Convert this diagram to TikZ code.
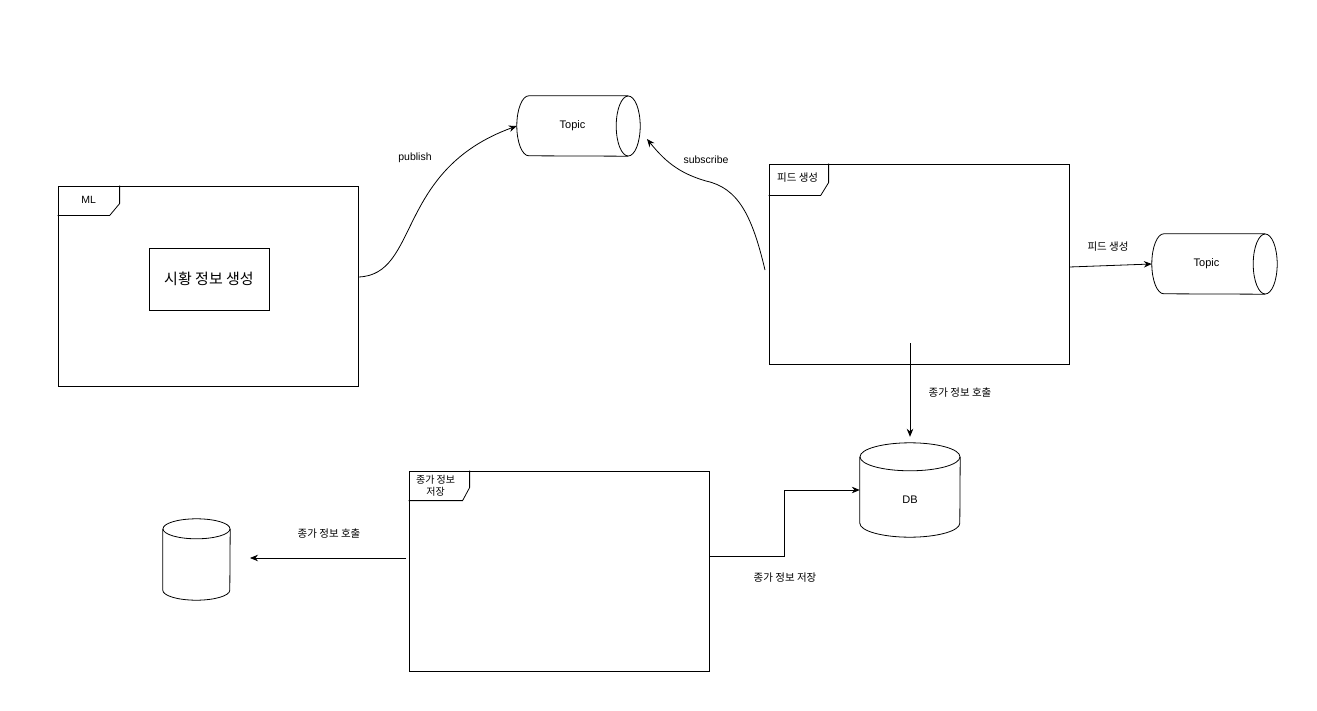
\documentclass[tikz,border=0pt]{standalone}
\usepackage{fontspec}
\setmainfont{Liberation Sans}
\newfontfamily\kr{Noto Sans CJK KR}
\usetikzlibrary{arrows.meta,calc}
\tikzset{
  frame/.style={draw, line width=0.8pt, minimum width=300pt, minimum height=200pt, inner sep=0pt},
  lbl/.style={font=\kr\fontsize{10.5}{12.5}\selectfont, inner sep=1pt, align=center},
  conn/.style={line width=0.8pt, -{Stealth[length=8pt,width=6.5pt]}},
  shapeline/.style={line width=0.8pt},
  ghost/.style={draw=none, inner sep=0pt},
}
\begin{document}
\begin{tikzpicture}[x=1pt,y=1pt]
\fill[white] (0,0) rectangle (1317,-711);
\useasboundingbox (0,0) rectangle (1317,-711);

% frames
\node[frame] (ml) at (208,-286) {};
\node[frame] (feed) at (919,-264) {};
\node[frame] (store) at (559,-571) {};

% tabs
\draw[shapeline] ($(ml.north west)+(62,0)$) -- ++(0,-18) -- ++(-10,-12) -- ++(-52,0);
\node[lbl, font=\fontsize{10.5}{12.5}\selectfont] (mltab) at ($(ml.north west)+(31,-14)$) {ML};
\draw[shapeline] ($(feed.north west)+(60,0)$) -- ++(0,-19) -- ++(-8,-13) -- ++(-52,0);
\node[lbl] (feedtab) at ($(feed.north west)+(29,-14)$) {피드 생성};
\draw[shapeline] ($(store.north west)+(61,0)$) -- ++(0,-17) -- ++(-7,-13) -- ++(-54,0);
\node[lbl, font=\kr\fontsize{10}{12.5}\selectfont] (storetab) at ($(store.north west)+(27,-15)$) {종가 정보\\저장};

% inner box
\node[draw, shapeline, minimum width=120pt, minimum height=62pt, font=\kr\fontsize{15}{18}\selectfont] (sh) at (209,-279) {시황 정보 생성};

% Topic 1 (horizontal cylinder)
\node[ghost, minimum width=123pt, minimum height=60pt, label={[lbl, font=\fontsize{11}{13}\selectfont, xshift=-6pt]center:Topic}] (t1) at (578.5,-126) {};
\draw[shapeline] ($(t1.east)+(-12,0)$) ellipse[x radius=12, y radius=30];
\draw[shapeline] ($(t1.north east)+(-12,0)$) -- ($(t1.north west)+(12,0)$) arc[start angle=90, end angle=270, x radius=12, y radius=30] -- ($(t1.south east)+(-12,0)$);

% Topic 2 (horizontal cylinder)
\node[ghost, minimum width=125pt, minimum height=60pt, label={[lbl, font=\fontsize{11}{13}\selectfont, xshift=-8pt]center:Topic}] (t2) at (1214.5,-264) {};
\draw[shapeline] ($(t2.east)+(-12,0)$) ellipse[x radius=12, y radius=30];
\draw[shapeline] ($(t2.north east)+(-12,0)$) -- ($(t2.north west)+(12,0)$) arc[start angle=90, end angle=270, x radius=12, y radius=30] -- ($(t2.south east)+(-12,0)$);

% DB (vertical cylinder)
\node[ghost, minimum width=100pt, minimum height=94pt, label={[lbl, font=\fontsize{11}{13}\selectfont, yshift=-10pt]center:DB}] (d) at (910,-490) {};
\draw[shapeline] ($(d.north)+(0,-14)$) ellipse[x radius=50, y radius=14];
\draw[shapeline] ($(d.north west)+(0,-14)$) -- ($(d.south west)+(0,14)$) arc[start angle=180, end angle=360, x radius=50, y radius=14] -- ($(d.north east)+(0,-14)$);

% small cylinder
\node[ghost, minimum width=67pt, minimum height=81pt] (c) at (196.5,-559.5) {};
\draw[shapeline] ($(c.north)+(0,-10)$) ellipse[x radius=33.5, y radius=10];
\draw[shapeline] ($(c.north west)+(0,-10)$) -- ($(c.south west)+(0,10)$) arc[start angle=180, end angle=360, x radius=33.5, y radius=10] -- ($(c.north east)+(0,-10)$);

% connectors
\draw[conn] ($(ml.east)+(0,9)$) .. controls (420,-275) and (395,-170) .. (t1.west);
\node[lbl, font=\fontsize{10.5}{12.5}\selectfont] (publbl) at (415,-158) {publish};

\coordinate (subsrc) at (765,-270);
\coordinate (submid) at (706,-181);
\coordinate (subtip) at (647,-139);
\draw[conn] (subsrc) .. controls (752,-215) and (738,-188) .. (submid) .. controls (678,-173) and (664,-160) .. (subtip);
\node[lbl, font=\fontsize{10.5}{12.5}\selectfont] (sublbl) at (706,-160) {subscribe};

\draw[conn] ($(feed.east)+(0,-3)$) -- (t2.west);
\node[lbl] (feedlbl) at (1108,-247) {피드 생성};

\coordinate (callsrc) at (910,-343);
\draw[conn] (callsrc) -- ($(d.north)+(0,6)$);
\node[lbl] (calllbl) at (960,-393) {종가 정보 호출};

\draw[conn] ($(store.east)+(0,15)$) -- ++(75,0) |- (d.west);
\node[lbl] (savelbl) at (785,-578) {종가 정보 저장};

\coordinate (lsrc) at (406,-558);
\coordinate (ltip) at (250,-558);
\draw[conn] (lsrc) -- (ltip);
\node[lbl] (lcalllbl) at (329,-534) {종가 정보 호출};
\end{tikzpicture}
\end{document}
